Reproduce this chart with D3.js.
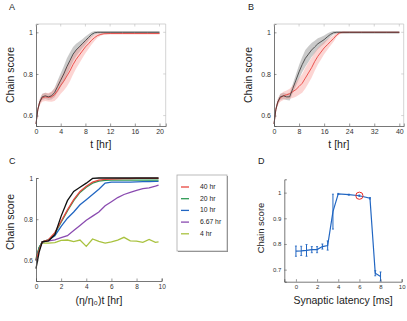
<!DOCTYPE html>
<html><head><meta charset="utf-8">
<script src="https://cdn.jsdelivr.net/npm/d3@7"></script>
<style>
body{margin:0;background:#fff;}
svg{display:block;font-family:"Liberation Sans",Arial,sans-serif;}
</style></head><body>
<script>
// ---------- Panel A data ----------
const tA = [0,0.3,0.6,1,1.5,2,2.5,3,3.5,4,4.5,5,5.5,6,6.5,7,7.5,8,8.5,9,9.5,10,10.5,11,12,14,16,18,20];
const blackA = [0.56,0.63,0.665,0.69,0.695,0.69,0.695,0.71,0.74,0.77,0.80,0.835,0.865,0.895,0.915,0.93,0.945,0.96,0.975,0.99,0.998,1,1,1,1,1,1,1,1];
const blackErrA = [0.005,0.01,0.012,0.015,0.015,0.015,0.018,0.022,0.028,0.033,0.037,0.04,0.038,0.034,0.03,0.026,0.022,0.02,0.016,0.012,0.008,0.007,0.007,0.007,0.007,0.007,0.007,0.007,0.007];
const redA = [0.56,0.63,0.665,0.685,0.69,0.688,0.69,0.70,0.72,0.745,0.765,0.79,0.815,0.845,0.87,0.89,0.91,0.93,0.945,0.962,0.975,0.985,0.99,0.993,0.994,0.994,0.994,0.994,0.994];
const redErrA = [0.005,0.01,0.015,0.018,0.02,0.02,0.024,0.03,0.035,0.04,0.045,0.05,0.05,0.048,0.044,0.04,0.035,0.03,0.025,0.02,0.015,0.01,0.006,0.004,0.003,0.003,0.003,0.003,0.003];
const xTicksA = [0,4,8,12,16,20];

// ---------- Panel B data ----------
const tB = [0,0.6,1.2,2,3,4,5,6,7,8,9,10,11,12,13,14,15,16,17,18,19,20,21,22,24,28,32,36,40];
const blackB = [0.56,0.63,0.665,0.69,0.695,0.69,0.69,0.73,0.77,0.81,0.845,0.875,0.895,0.915,0.93,0.945,0.955,0.965,0.978,0.99,0.998,1,1,1,1,1,1,1,1];
const blackErrB = [0.005,0.01,0.012,0.015,0.015,0.015,0.018,0.022,0.028,0.033,0.037,0.04,0.038,0.034,0.03,0.026,0.022,0.02,0.016,0.012,0.008,0.007,0.007,0.007,0.007,0.007,0.007,0.007,0.007];
const redB = [0.56,0.63,0.665,0.685,0.695,0.70,0.705,0.715,0.725,0.74,0.755,0.78,0.805,0.83,0.86,0.885,0.905,0.925,0.94,0.955,0.97,0.987,0.998,1,1,1,1,1,1];
const redErrB = [0.005,0.01,0.015,0.018,0.02,0.02,0.024,0.03,0.035,0.04,0.045,0.05,0.05,0.048,0.044,0.04,0.035,0.03,0.025,0.02,0.015,0.01,0.006,0.004,0.003,0.003,0.003,0.003,0.003];
const xTicksB = [0,8,16,24,32,40];

// ---------- Panel C data ----------
const tC = [0,0.25,0.5,1,1.5,2,2.5,3,3.5,4,4.5,5,5.5,6,6.5,7,7.5,8,8.5,9,9.5,9.75];
const cBlack  = [0.56,0.64,0.69,0.695,0.725,0.815,0.89,0.935,0.955,0.975,0.998,1,1,1,1,1,1,1,1,1,1,1];
const c40hr   = [0.60,0.65,0.69,0.70,0.735,0.79,0.845,0.895,0.935,0.96,0.98,0.99,0.993,0.995,0.996,0.997,0.997,0.998,0.998,0.998,0.998,0.998];
const c20hr   = [0.60,0.66,0.69,0.70,0.73,0.785,0.84,0.89,0.93,0.955,0.975,0.985,0.988,0.99,0.99,0.99,0.99,0.99,0.99,0.99,0.99,0.99];
const c10hr   = [0.60,0.66,0.69,0.70,0.72,0.765,0.805,0.835,0.87,0.895,0.92,0.945,0.975,0.98,0.98,0.98,0.98,0.981,0.982,0.983,0.984,0.984];
const c667hr  = [0.60,0.66,0.69,0.695,0.70,0.71,0.72,0.745,0.77,0.795,0.815,0.835,0.865,0.885,0.905,0.92,0.93,0.94,0.948,0.952,0.96,0.965];
const c4hr    = [0.61,0.665,0.685,0.684,0.686,0.697,0.699,0.691,0.699,0.668,0.704,0.692,0.684,0.69,0.698,0.712,0.695,0.694,0.688,0.702,0.688,0.69];
const legendC = ["40 hr","20 hr","10 hr","6.67 hr","4 hr"];
const colorsC = ["#e8463f","#2e9a55","#2166c2","#8a4bb0","#a9c23f"];
const xTicksC = [0,2,4,6,8,10];

// ---------- Panel D data ----------
const latency = [0,0.5,1,1.5,2,2.5,3,3.5,4,5,6,7,7.5,8];
const scoreD  = [0.772,0.773,0.775,0.778,0.778,0.79,0.794,0.926,0.995,0.992,0.988,0.978,0.686,0.673];
const errD    = [0.02,0.018,0.023,0.012,0.012,0.01,0.018,0.068,0.002,0.002,0.003,0.003,0.01,0.018];
const markedLatency = 6;
const xTicksD = [0,2,4,6,8,10];
const yTicksD = [0.7,0.8,0.9,1];

const W = 407, H = 321;
const svg = d3.select("body").append("svg").attr("width",W).attr("height",H);
svg.append("rect").attr("width",W).attr("height",H).attr("fill","#fff");

const AX = "#555", TXT = "#333";

function axes(x, y, xt, yt, box, tickFont, fmtY){
  const g = svg.append("g");
  const [x0,x1] = x.range(), [y0,y1] = y.range();
  const ax = d3.axisBottom(x).tickValues(xt).tickSize(-2.5).tickPadding(3).tickFormat(d3.format("d"));
  const ay = d3.axisLeft(y).tickValues(yt).tickSize(-2.5).tickPadding(3).tickFormat(fmtY||(d=>d===1?"1":d3.format(".1f")(d)));
  const gx = g.append("g").attr("transform",`translate(0,${y0})`).call(ax);
  const gy = g.append("g").attr("transform",`translate(${x0},0)`).call(ay);
  [gx,gy].forEach(a=>{
    a.select(".domain").attr("stroke",AX).attr("stroke-width",0.8);
    a.selectAll(".tick line").attr("stroke",AX).attr("stroke-width",0.6);
    a.selectAll("text").attr("fill",TXT).attr("font-size",tickFont).attr("font-family","Liberation Sans, Arial, sans-serif");
  });
  if(box){
    g.append("line").attr("x1",x0).attr("x2",x1).attr("y1",y1).attr("y2",y1).attr("stroke","#c8c8c8").attr("stroke-width",0.8);
    g.append("line").attr("x1",x1).attr("x2",x1).attr("y1",y0).attr("y2",y1).attr("stroke","#c8c8c8").attr("stroke-width",0.8);
    xt.forEach(v=>g.append("line").attr("x1",x(v)).attr("x2",x(v)).attr("y1",y1).attr("y2",y1+2.5).attr("stroke","#bbb").attr("stroke-width",0.6));
    yt.forEach(v=>g.append("line").attr("x1",x1).attr("x2",x1-2.5).attr("y1",y(v)).attr("y2",y(v)).attr("stroke","#bbb").attr("stroke-width",0.6));
  }
  return g;
}
function label(txt,x,y,size,rot){
  const t = svg.append("text").attr("x",x).attr("y",y).attr("text-anchor","middle").attr("fill","#222")
    .attr("font-size",size).text(txt);
  if(rot) t.attr("transform",`rotate(-90,${x},${y})`);
  return t;
}

function bandPanel(t, bm, be, rm, re, xDom, xRange, xt, letter, lx){
  const x = d3.scaleLinear().domain(xDom).range(xRange);
  const y = d3.scaleLinear().domain([0.55,1.04]).range([126,24]);
  const idx = d3.range(t.length);
  const area = (m,e)=>d3.area().x(i=>x(t[i])).y0(i=>y(m[i]-e[i])).y1(i=>y(Math.min(m[i]+e[i],1.006)));
  const line = m=>d3.line().x(i=>x(t[i])).y(i=>y(m[i]));
  svg.append("path").datum(idx).attr("d",area(bm,be)).attr("fill","#b4b4b4").attr("opacity",0.7);
  svg.append("path").datum(idx).attr("d",area(rm,re)).attr("fill","#f79a95").attr("opacity",0.42);
  svg.append("path").datum(idx).attr("d",line(rm)).attr("fill","none").attr("stroke","#e8332f").attr("stroke-width",0.8);
  svg.append("path").datum(idx).attr("d",line(bm)).attr("fill","none").attr("stroke","#333").attr("stroke-width",0.8);
  axes(x,y,xt,[0.6,0.8,1],true,7);
  label(letter,lx,10,9).attr("text-anchor","start");
  label("Chain score",xRange[0]-22,75,10.5,true);
  label("t [hr]",(xRange[0]+xRange[1])/2,148,10.5);
}
bandPanel(tA,blackA,blackErrA,redA,redErrA,[0,21],[36,165.7],xTicksA,"A",9);
bandPanel(tB,blackB,blackErrB,redB,redErrB,[0,41.4],[274,403.7],xTicksB,"B",248);

// ---------- Panel C ----------
{
  const x = d3.scaleLinear().domain([0,10]).range([36,161.7]);
  const y = d3.scaleLinear().domain([0.5,1]).range([281,178]);
  const line = m=>d3.line().x((d,i)=>x(tC[i])).y(d=>y(d))(m);
  const series = [c4hr,c667hr,c10hr,c20hr,c40hr];
  const cols = [colorsC[4],colorsC[3],colorsC[2],colorsC[1],colorsC[0]];
  series.forEach((s,k)=>svg.append("path").attr("d",line(s)).attr("fill","none").attr("stroke",cols[k]).attr("stroke-width",1.3));
  svg.append("path").attr("d",line(cBlack)).attr("fill","none").attr("stroke","#111").attr("stroke-width",1.3);
  axes(x,y,xTicksC,[0.6,0.8,1],false,6.5);
  label("C",9,164,9).attr("text-anchor","start");
  label("Chain score",14,222,10.5,true);
  label("(η/η\u2080)t [hr]",99,304,10.5);
  // legend
  const lg = svg.append("g");
  lg.append("rect").attr("x",178).attr("y",176).attr("width",50).attr("height",76).attr("fill","#888");
  lg.append("rect").attr("x",177).attr("y",175).attr("width",50).attr("height",76).attr("fill","#fff").attr("stroke","#aaa").attr("stroke-width",0.8);
  legendC.forEach((name,i)=>{
    const yy = 187 + i*11.7;
    lg.append("line").attr("x1",181).attr("x2",189).attr("y1",yy).attr("y2",yy).attr("stroke",colorsC[i]).attr("stroke-width",1.3);
    lg.append("text").attr("x",200).attr("y",yy+2).attr("font-size",6.8).attr("fill","#222").text(name);
  });
}

// ---------- Panel D ----------
{
  const x = d3.scaleLinear().domain([-1.1,10]).range([284.3,401.7]);
  const y = d3.scaleLinear().domain([0.653,1.052]).range([281.7,179.3]);
  const clipId = "clipD";
  svg.append("clipPath").attr("id",clipId).append("rect").attr("x",284).attr("y",175).attr("width",120).attr("height",106.7);
  const g = svg.append("g").attr("clip-path",`url(#${clipId})`);
  const blue = "#2166c2";
  g.append("path").attr("d",d3.line().x((d,i)=>x(latency[i])).y(d=>y(d))(scoreD))
    .attr("fill","none").attr("stroke",blue).attr("stroke-width",1.2);
  latency.forEach((l,i)=>{
    const yt = y(scoreD[i]+errD[i]), yb = y(scoreD[i]-errD[i]);
    g.append("line").attr("x1",x(l)).attr("x2",x(l)).attr("y1",yt).attr("y2",yb).attr("stroke",blue).attr("stroke-width",1);
    [yt,yb].forEach(v=>g.append("line").attr("x1",x(l)-1).attr("x2",x(l)+1).attr("y1",v).attr("y2",v).attr("stroke",blue).attr("stroke-width",0.8));
  });
  const mi = latency.indexOf(markedLatency);
  svg.append("circle").attr("cx",x(markedLatency)).attr("cy",y(scoreD[mi])).attr("r",3.6)
    .attr("fill","none").attr("stroke","#e8302a").attr("stroke-width",1);
  axes(x,y,xTicksD,yTicksD,false,6);
  label("D",258,164,9).attr("text-anchor","start");
  label("Chain score",264,228,9.5,true);
  label("Synaptic latency [ms]",343,304,10.5);
}
</script>
</body></html>
